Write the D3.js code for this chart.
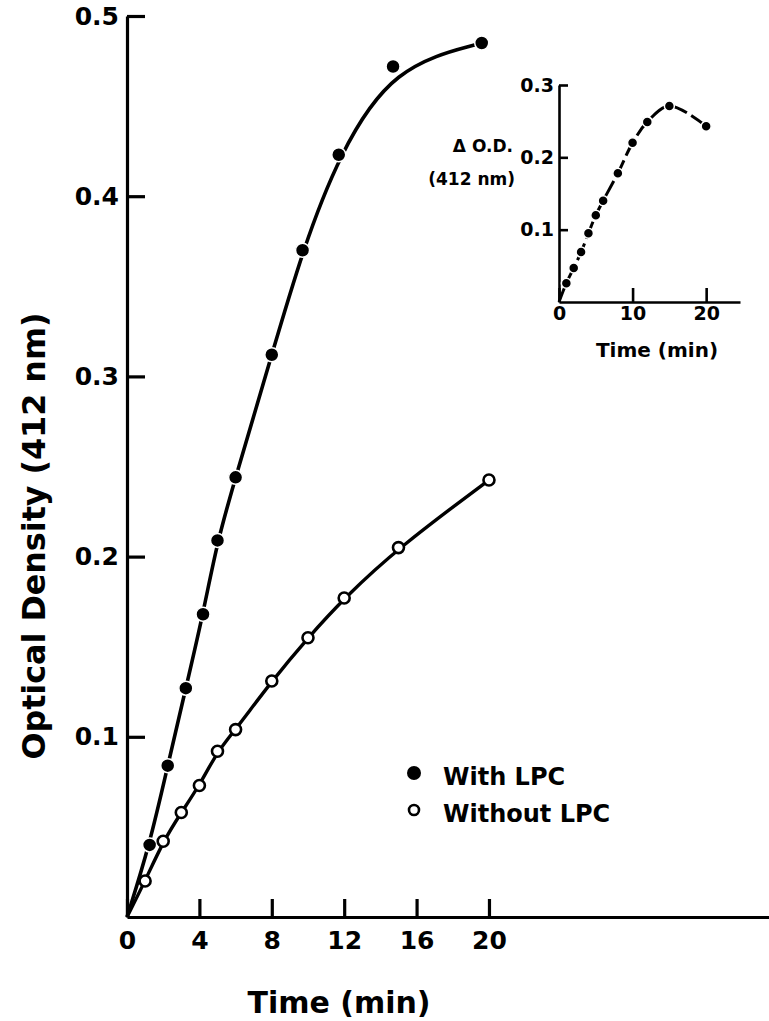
<!DOCTYPE html>
<html>
<head>
<meta charset="utf-8">
<script src="https://cdn.jsdelivr.net/npm/d3@7"></script>
<style>
  body { margin: 0; background: #fff; }
  text { font-family: "DejaVu Sans", sans-serif; font-weight: bold; fill: #000; }
</style>
</head>
<body>
<div id="chart"></div>
<script>
// Data
var timeWith = [0, 1.25, 2.25, 3.25, 4.2, 5.0, 6.0, 8.0, 9.7, 11.7, 14.7, 19.6];
var odWith = [0, 0.040, 0.084, 0.127, 0.168, 0.209, 0.244, 0.312, 0.370, 0.423, 0.472, 0.485];

var timeWithout = [0, 1, 2, 3, 4, 5, 6, 8, 10, 12, 15, 20];
var odWithout = [0, 0.020, 0.042, 0.058, 0.073, 0.092, 0.104, 0.131, 0.155, 0.177, 0.205, 0.2425];

// inset: difference (with - without)
var timeDelta = [0, 1, 2, 3, 4, 5, 6, 8, 10, 12, 15, 20];
var odDelta = [0, 0.026, 0.047, 0.069, 0.095, 0.120, 0.140, 0.178, 0.220, 0.249, 0.271, 0.243];

var xTicks = [0, 4, 8, 12, 16, 20];
var yTicks = [0.1, 0.2, 0.3, 0.4, 0.5];
var insetXTicks = [0, 10, 20];
var insetYTicks = [0.1, 0.2, 0.3];

var legendLabels = ["With LPC", "Without LPC"];

var svgWidth = 769;
var svgHeight = 1021;

var svg = d3.select("#chart")
  .append("svg")
  .attr("width", svgWidth)
  .attr("height", svgHeight);

svg.append("rect")
  .attr("width", svgWidth)
  .attr("height", svgHeight)
  .attr("fill", "#fff");

function zip(ts, vs) {
  return ts.map(function(t, i) { return { t: t, v: vs[i] }; });
}

function styleAxis(g, fontSize, width) {
  g.select(".domain").attr("stroke", "#000").attr("stroke-width", width);
  g.selectAll(".tick line").attr("stroke", "#000").attr("stroke-width", width);
  g.selectAll(".tick text")
    .attr("fill", "#000")
    .style("font-size", fontSize + "px")
    .style("font-family", "DejaVu Sans")
    .style("font-weight", "bold");
}

// ---------- main chart ----------
var x = d3.scaleLinear().domain([0, 35.5]).range([127, 769.5]);
var y = d3.scaleLinear().domain([0, 0.5]).range([917, 16]);

var xAxis = svg.append("g")
  .attr("transform", "translate(0," + y(0) + ")")
  .call(d3.axisBottom(x).tickValues(xTicks).tickSizeInner(-18).tickSizeOuter(0).tickPadding(14)
    .tickFormat(d3.format("d")));
styleAxis(xAxis, 25, 3.2);

var yAxis = svg.append("g")
  .attr("transform", "translate(" + x(0) + ",0)")
  .call(d3.axisLeft(y).tickValues(yTicks).tickSizeInner(-18).tickSizeOuter(0).tickPadding(8)
    .tickFormat(d3.format(".1f")));
styleAxis(yAxis, 25, 3.2);

var line = d3.line()
  .x(function(d) { return x(d.t); })
  .y(function(d) { return y(d.v); })
  .curve(d3.curveBasis);

var withData = zip(timeWith, odWith);
var withoutData = zip(timeWithout, odWithout);

svg.append("path")
  .datum(withData)
  .attr("d", line)
  .attr("fill", "none")
  .attr("stroke", "#000")
  .attr("stroke-width", 3.6);

svg.append("path")
  .datum(withoutData)
  .attr("d", line)
  .attr("fill", "none")
  .attr("stroke", "#000")
  .attr("stroke-width", 3.4);

svg.selectAll(".dot-with")
  .data(withData.slice(1))
  .enter().append("circle")
    .attr("class", "dot-with")
    .attr("cx", function(d) { return x(d.t); })
    .attr("cy", function(d) { return y(d.v); })
    .attr("r", 7)
    .attr("fill", "#000")
    .attr("stroke", "#fff")
    .attr("stroke-width", 1.5);

svg.selectAll(".dot-without")
  .data(withoutData.slice(1))
  .enter().append("circle")
    .attr("class", "dot-without")
    .attr("cx", function(d) { return x(d.t); })
    .attr("cy", function(d) { return y(d.v); })
    .attr("r", 5.5)
    .attr("fill", "#fff")
    .attr("stroke", "#000")
    .attr("stroke-width", 2.6);

// axis titles
svg.append("text")
  .attr("x", 339)
  .attr("y", 1013)
  .attr("text-anchor", "middle")
  .style("font-size", "30px")
  .text("Time (min)");

svg.append("text")
  .attr("transform", "translate(45,536) rotate(-90)")
  .attr("text-anchor", "middle")
  .attr("textLength", 447)
  .attr("lengthAdjust", "spacingAndGlyphs")
  .style("font-size", "32px")
  .text("Optical Density (412 nm)");

// legend
var legend = svg.append("g");
legendLabels.forEach(function(label, i) {
  var ly = 777 + i * 37;
  legend.append("circle")
    .attr("cx", 414)
    .attr("cy", ly - 4)
    .attr("r", i === 0 ? 7 : 5)
    .attr("fill", i === 0 ? "#000" : "#fff")
    .attr("stroke", "#000")
    .attr("stroke-width", i === 0 ? 0 : 2.6);
  legend.append("text")
    .attr("x", 443)
    .attr("y", ly + 8)
    .style("font-size", "24px")
    .text(label);
});

// ---------- inset ----------
var ix = d3.scaleLinear().domain([0, 24.6]).range([559, 740]);
var iy = d3.scaleLinear().domain([0, 0.3]).range([302, 85]);

var ixAxis = svg.append("g")
  .attr("transform", "translate(0," + iy(0) + ")")
  .call(d3.axisBottom(ix).tickValues(insetXTicks).tickSizeInner(-14).tickSizeOuter(0).tickPadding(5)
    .tickFormat(d3.format("d")));
styleAxis(ixAxis, 19, 2.6);

var iyAxis = svg.append("g")
  .attr("transform", "translate(" + ix(0) + ",0)")
  .call(d3.axisLeft(iy).tickValues(insetYTicks).tickSizeInner(-9).tickSizeOuter(0).tickPadding(5)
    .tickFormat(d3.format(".1f")));
styleAxis(iyAxis, 19, 2.6);

var iline = d3.line()
  .x(function(d) { return ix(d.t); })
  .y(function(d) { return iy(d.v); })
  .curve(d3.curveCatmullRom.alpha(0.5));

var deltaData = zip(timeDelta, odDelta);

svg.append("path")
  .datum(deltaData)
  .attr("d", iline)
  .attr("fill", "none")
  .attr("stroke", "#000")
  .attr("stroke-width", 3)
  .attr("stroke-dasharray", "18,5");

svg.selectAll(".dot-delta")
  .data(deltaData.slice(1))
  .enter().append("circle")
    .attr("class", "dot-delta")
    .attr("cx", function(d) { return ix(d.t); })
    .attr("cy", function(d) { return iy(d.v); })
    .attr("r", 5)
    .attr("fill", "#000")
    .attr("stroke", "#fff")
    .attr("stroke-width", 1.5);

svg.append("text")
  .attr("x", 657)
  .attr("y", 357)
  .attr("text-anchor", "middle")
  .style("font-size", "20px")
  .text("Time (min)");

svg.append("text")
  .attr("x", 513)
  .attr("y", 152)
  .attr("text-anchor", "end")
  .style("font-size", "17px")
  .text("\u0394  O.D.");

svg.append("text")
  .attr("x", 515)
  .attr("y", 185)
  .attr("text-anchor", "end")
  .style("font-size", "17px")
  .text("(412 nm)");
</script>
</body>
</html>
